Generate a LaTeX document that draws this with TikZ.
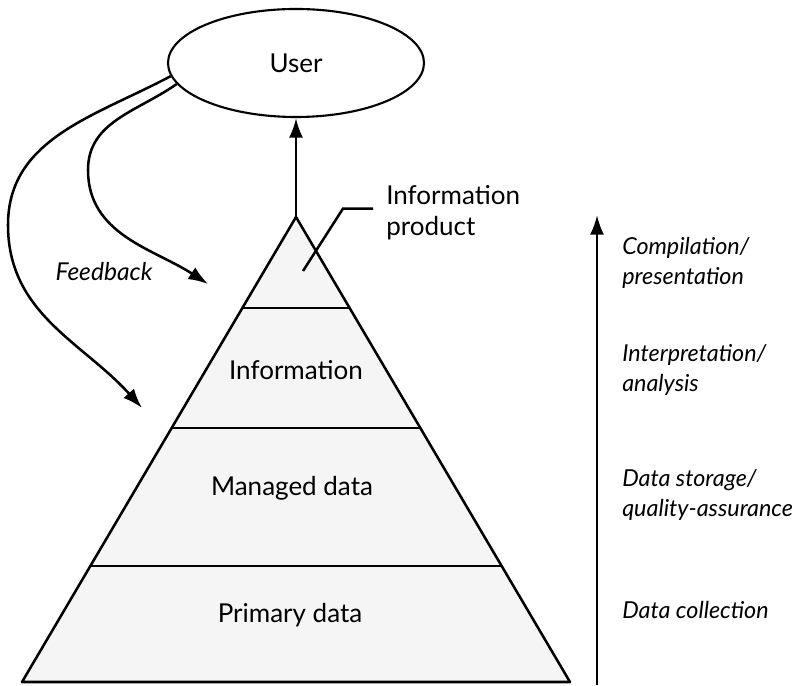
\documentclass[tikz,border=0pt]{standalone}
\usepackage{fontspec}
\setmainfont{Lato}
\usetikzlibrary{calc}
\usetikzlibrary{positioning}
\usetikzlibrary{arrows.meta}
\usetikzlibrary{shapes.geometric}

\begin{document}
\begin{tikzpicture}[>={Latex[length=14pt,width=10pt]}, line width=1.8pt,
    layerlabel/.style={font=\fontsize{18.5}{22}\selectfont},
    stagelabel/.style={anchor=west, align=left, inner sep=0pt, font=\fontsize{16.6}{21}\selectfont\itshape}]
    \useasboundingbox (0,0) rectangle (20.1,17.125);

    % pyramid
    \coordinate (apex) at (7.4,11.7);
    \coordinate (baseLeft) at (0.55,0.075);
    \coordinate (baseRight) at (14.25,0.075);
    \fill [black!4] (apex) -- (baseLeft) -- (baseRight) -- cycle;
    \draw [line join=round] (apex) -- (baseLeft) -- (baseRight) -- cycle;
    \draw ($(apex)!0.1957!(baseLeft)$) -- ($(apex)!0.1957!(baseRight)$);
    \draw ($(apex)!0.4538!(baseLeft)$) -- ($(apex)!0.4538!(baseRight)$);
    \draw ($(apex)!0.7505!(baseLeft)$) -- ($(apex)!0.7505!(baseRight)$);

    \node [layerlabel] (information) at (7.4,7.875) {Information};
    \node [layerlabel] (managedData) at (7.3,4.925) {Managed data};
    \node [layerlabel] (primaryData) at (7.25,1.75) {Primary data};

    % user and product
    \node [ellipse, draw, line width=1.5pt, minimum width=6.4cm, minimum height=2.7cm, inner sep=0pt, layerlabel] (user) at (7.4,15.55) {User};
    \draw [->] (apex) -- (user);

    \node [layerlabel, anchor=west, align=left, inner sep=0pt] (infoProduct) at (9.625,11.81) {Information\\product};
    \coordinate (productPoint) at (7.575,10.35);
    \draw ([xshift=-0.3cm, yshift=0.1cm]infoProduct.west) -- ++(-0.75,0) -- (productPoint);

    % feedback
    \node [font=\fontsize{17.5}{20}\selectfont\itshape] (feedback) at (2.6,10.325) {Feedback};
    \coordinate (feedbackInfo) at (3.55,6.925);
    \coordinate (feedbackProduct) at (5.2,10.025);
    \draw [->] (user.186) to[out=208, in=90] (0.2,11.5) to[out=-90, in=132] (feedbackInfo);
    \draw [->] (user.190) to[out=215, in=90] (2.2,12.875) to[out=-90, in=147] (feedbackProduct);

    % stages
    \coordinate (stageBottom) at (14.925,0.0);
    \coordinate (stageTop) at (14.925,11.75);
    \draw [->] (stageBottom) -- (stageTop);
    \node [stagelabel] (compilation) at (15.525,10.55) {Compilation/\\presentation};
    \node [stagelabel] (interpretation) at (15.525,7.875) {Interpretation/\\analysis};
    \node [stagelabel] (storage) at (15.525,4.75) {Data storage/\\quality-assurance};
    \node [stagelabel] (collection) at (15.525,1.875) {Data collection};
\end{tikzpicture}
\end{document}
